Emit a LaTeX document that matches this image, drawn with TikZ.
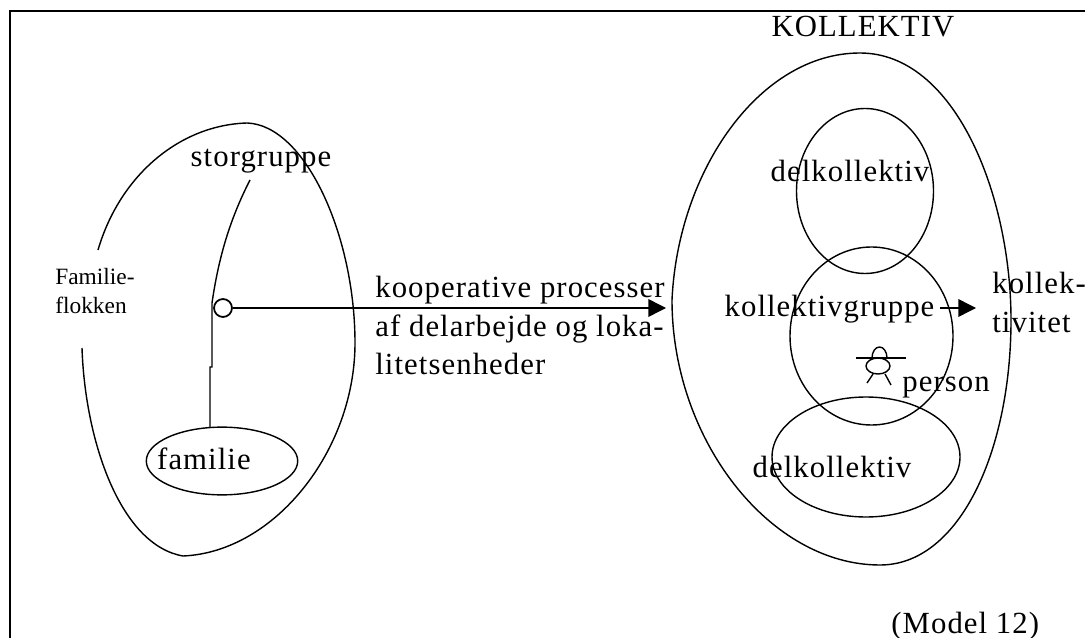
\documentclass[tikz,border=0pt]{standalone}
\usepackage{fontspec}
\setmainfont{Liberation Serif}
\newfontfamily\labelfont[LetterSpace=3.5]{Liberation Serif}
\usetikzlibrary{arrows.meta,shapes.geometric}
\tikzset{
  curve/.style={line width=0.8pt},
  lbl/.style={inner sep=0pt, anchor=base, font=\labelfont\fontsize{17.5}{17.5}\selectfont},
  multi/.style={inner sep=0pt, align=left, anchor=north west, font=\labelfont\fontsize{17.5}{22}\selectfont},
  head/.style={-{Triangle[length=10pt,width=10pt]}, line width=0.8pt},
}
\begin{document}
\begin{tikzpicture}[x=0.02cm, y=-0.02cm]
  \useasboundingbox (0,0) rectangle (1085,638);
  \coordinate (frametl) at (10,11);
  \coordinate (framebl) at (10,638);
  \coordinate (frametr) at (1085,11);
  \draw[line width=1.1pt] (framebl) -- (frametl) -- (frametr);

  % left side
  \node[inner sep=0pt, align=left, anchor=west, font=\fontsize{13.3}{16}\selectfont] (flokken) at (55,291) {Familie-\\flokken};
  \node[lbl] (storgruppe) at (261,167) {storgruppe};
  \node[lbl] (familie) at (204,469) {familie};
  \node[draw, ellipse, curve, minimum width=152*0.567pt, minimum height=68*0.567pt, inner sep=0pt] (famring) at (222,461) {};
  \coordinate (grpstart) at (250,180);
  \coordinate (famtop) at (210,427);
  \draw[curve] (grpstart) .. controls (228,223) and (218,262) .. (212,303) -- (212,367) -- (210,367) -- (famtop);
  \node[draw, circle, minimum size=18*0.567pt, inner sep=0pt, line width=1pt] (ring) at (223,308) {};
  \coordinate (arrowL) at (666,308);
  \draw[head] (ring) -- (arrowL);
  \draw[curve] (98,250) .. controls (120,175) and (180,125) .. (247,123)
     .. controls (305,125) and (355,235) .. (355,343)
     .. controls (355,450) and (275,552) .. (183,556)
     .. controls (120,545) and (85,440) .. (82,348);

  % arrow text
  \node[multi] (proc) at (375,276) {kooperative processer\\af delarbejde og loka-\\litetsenheder};

  % right side
  \node[lbl] (kollektiv) at (863,37) {KOLLEKTIV};
  \node[lbl] (delA) at (850,182) {delkollektiv};
  \node[lbl] (kgruppe) at (829.5,317) {kollektivgruppe};
  \node[lbl] (delB) at (832,477) {delkollektiv};
  \node[lbl, anchor=base west] (person) at (902,392) {person};
  \node[multi] (kvitet) at (992,272) {kollek-\\tivitet};
  \node[lbl, anchor=base west] (model) at (891,633) {(Model 12)};

  \draw[curve] (865,191) ellipse (68.5 and 82.5);
  \draw[curve] (871.5,336) ellipse (81.5 and 89);
  \draw[curve] (866,457) ellipse (94 and 60);
  \draw[curve] (672,300) .. controls (678,170) and (760,53) .. (860,53)
     .. controls (955,53) and (1011,195) .. (1011,320)
     .. controls (1011,450) and (960,565) .. (880,565)
     .. controls (770,565) and (672,440) .. (672,300);

  % person figure
  \coordinate (armL) at (856,358);
  \coordinate (armR) at (906,358);
  \draw[curve] (armL) -- (armR);
  \draw[curve] (878,366) ellipse (12 and 8);
  \draw[curve] (872,358) arc[start angle=180, end angle=360, x radius=7.5, y radius=11];
  \draw[curve] (873,374) -- (867,383);
  \draw[curve] (885,374) -- (891,385);

  \coordinate (outL) at (940,308);
  \coordinate (outR) at (976,308);
  \draw[head] (outL) -- (outR);
\end{tikzpicture}
\end{document}
